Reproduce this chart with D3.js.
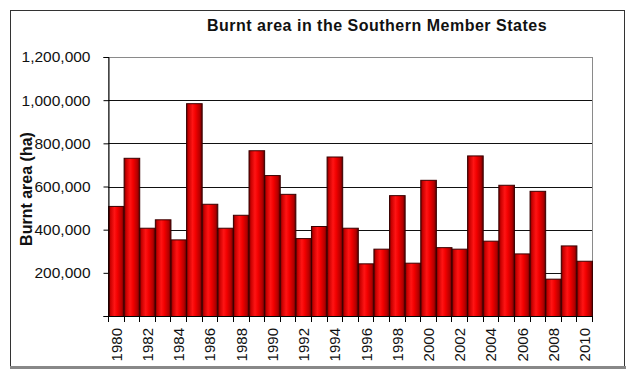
<!DOCTYPE html>
<html>
<head>
<meta charset="utf-8">
<script src="https://cdn.jsdelivr.net/npm/d3@7"></script>
<style>
  html, body { margin: 0; padding: 0; background: #fff; }
  svg { display: block; }
</style>
</head>
<body>
<svg id="chart" width="630" height="374"></svg>
<script>
const years = d3.range(1980, 2011).map(String);
const burntArea = [510000, 733000, 409000, 448000, 355000, 986000, 520000, 409000, 469000, 768000,
  653000, 566000, 361000, 417000, 739000, 409000, 244000, 312000, 560000, 247000,
  631000, 319000, 312000, 744000, 349000, 608000, 290000, 580000, 173000, 327000, 256000];
const yTicks = [0, 200000, 400000, 600000, 800000, 1000000, 1200000];
const xLabelYears = years.filter((d, i) => i % 2 === 0);
const titleText = "Burnt area in the Southern Member States";
const yTitleText = "Burnt area (ha)";

const svg = d3.select("#chart");
const font = "'Liberation Sans', Arial, sans-serif";
const plot = { left: 108, right: 592, top: 57, bottom: 316 };

// gradient for cylindrical red bars
const defs = svg.append("defs");
const grad = defs.append("linearGradient").attr("id", "barGrad")
  .attr("x1", "0%").attr("x2", "100%").attr("y1", "0%").attr("y2", "0%");
[["0%", "#6a0000"], ["12%", "#c80000"], ["38%", "#ff1414"], ["58%", "#f20000"], ["85%", "#b30000"], ["100%", "#5a0000"]]
  .forEach(([o, c]) => grad.append("stop").attr("offset", o).attr("stop-color", c));

// outer frame
svg.append("rect").attr("x", 10.5).attr("y", 10.5).attr("width", 614).attr("height", 356)
  .attr("fill", "#fff").attr("stroke", "#333").attr("stroke-width", 1);
svg.append("line").attr("x1", 10).attr("x2", 626).attr("y1", 367.5).attr("y2", 367.5)
  .attr("stroke", "#888").attr("stroke-width", 3);

const x = d3.scaleBand().domain(years).range([plot.left, plot.right]).padding(0);
const y = d3.scaleLinear().domain([0, 1200000]).range([plot.bottom, plot.top]);

// plot border
svg.append("rect").attr("x", plot.left + 0.5).attr("y", plot.top + 0.5)
  .attr("width", plot.right - plot.left).attr("height", plot.bottom - plot.top)
  .attr("fill", "none").attr("stroke", "#8a8a8a");

// gridlines
svg.append("g").selectAll("line").data(yTicks.filter(t => t > 0 && t < 1200000)).join("line")
  .attr("x1", plot.left).attr("x2", plot.right)
  .attr("y1", d => Math.round(y(d)) + 0.5).attr("y2", d => Math.round(y(d)) + 0.5)
  .attr("stroke", "#111").attr("stroke-width", 1);

// bars
svg.append("g").selectAll("rect").data(burntArea).join("rect")
  .attr("x", (d, i) => x(years[i]) + 0.5)
  .attr("width", x.bandwidth())
  .attr("y", d => y(d) + 0.5)
  .attr("height", d => y(0) - y(d))
  .attr("fill", "url(#barGrad)")
  .attr("stroke", "#3a0000").attr("stroke-width", 1);

// y axis
const yAxis = d3.axisLeft(y).tickValues(yTicks).tickSize(5).tickPadding(13)
  .tickFormat(d => d === 0 ? "" : d3.format(",")(d));
const gy = svg.append("g").attr("transform", `translate(${plot.left + 0.5},0)`).call(yAxis);
gy.select(".domain").attr("stroke", "#000");
gy.selectAll(".tick line").attr("stroke", "#000");
gy.selectAll(".tick text").attr("font-family", font).attr("font-size", "15.5px").attr("fill", "#111");

// x axis: ticks at band boundaries
const boundaries = years.map(d => x(d)).concat([plot.right]);
svg.append("line").attr("x1", plot.left).attr("x2", plot.right)
  .attr("y1", plot.bottom + 0.5).attr("y2", plot.bottom + 0.5).attr("stroke", "#000");
svg.append("g").selectAll("line").data(boundaries).join("line")
  .attr("x1", d => Math.round(d) + 0.5).attr("x2", d => Math.round(d) + 0.5)
  .attr("y1", plot.bottom).attr("y2", plot.bottom + 6)
  .attr("stroke", "#000");

svg.append("g").selectAll("text").data(xLabelYears).join("text")
  .attr("transform", d => `translate(${x(d) + x.bandwidth() / 2 + 0.5},${plot.bottom + 12}) rotate(-90)`)
  .attr("text-anchor", "end").attr("dy", "0.36em")
  .attr("font-family", font).attr("font-size", "15px").attr("fill", "#111")
  .text(d => d);

// title
svg.append("text").attr("x", 377).attr("y", 31).attr("text-anchor", "middle")
  .attr("font-family", font).attr("font-size", "16px").attr("font-weight", "bold")
  .attr("letter-spacing", "0.5px").attr("fill", "#111").text(titleText);

// y title
svg.append("text").attr("transform", "translate(32,189) rotate(-90)")
  .attr("text-anchor", "middle")
  .attr("font-family", font).attr("font-size", "16px").attr("font-weight", "bold")
  .attr("fill", "#111").text(yTitleText);
</script>
</body>
</html>
